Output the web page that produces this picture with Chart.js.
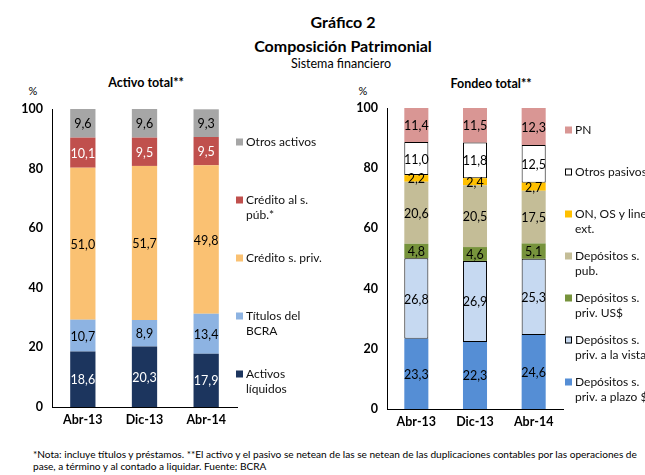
<!DOCTYPE html>
<html>
<head>
<meta charset="utf-8">
<script src="https://cdn.jsdelivr.net/npm/chart.js@4/dist/chart.umd.min.js"></script>
<style>
  body { margin:0; width:645px; height:475px; background:#fff; font-family: Lato, "Open Sans", sans-serif; color:#000; overflow:hidden; position:relative; }
  .t { position:absolute; white-space:nowrap; transform:translate(-50%,-50%); }
  .b { font-weight:bold; }
  canvas { position:absolute; }
  #nota { position:absolute; left:33px; top:448px; font-size:10.1px; line-height:12px; white-space:nowrap; }
</style>
</head>
<body>
<div class="t b" style="left:343px;top:21px;font-size:16px;">Gráfico 2</div>
<div class="t b" style="left:343px;top:45px;font-size:16px;">Composición Patrimonial</div>
<div class="t" style="left:341px;top:63px;font-size:12.5px;">Sistema financiero</div>
<div class="t b" style="left:146px;top:82px;font-size:12.5px;">Activo total**</div>
<div class="t b" style="left:491px;top:83px;font-size:12.5px;">Fondeo total**</div>
<div class="t" style="left:33px;top:90px;font-size:11px;">%</div>
<div class="t" style="left:363px;top:90px;font-size:11px;">%</div>

<canvas id="cActivo" width="330" height="380" style="left:0;top:60px;"></canvas>
<canvas id="cFondeo" width="315" height="380" style="left:330px;top:60px;"></canvas>

<div id="nota">*Nota: incluye títulos y préstamos. **El activo y el pasivo se netean de las se netean de las duplicaciones contables por las operaciones de<br>pase, a término y al contado a liquidar. Fuente: BCRA</div>

<script>
// categorias
const periodos = ['Abr-13', 'Dic-13', 'Abr-14'];

// Activo total (de abajo hacia arriba)
const activosLiquidos = [18.6, 20.3, 17.9];
const titulosBCRA = [10.7, 8.9, 13.4];
const creditoPriv = [51.0, 51.7, 49.8];
const creditoPub = [10.1, 9.5, 9.5];
const otrosActivos = [9.6, 9.6, 9.3];

// Fondeo total (de abajo hacia arriba)
const depPlazo = [23.3, 22.3, 24.6];
const depVista = [26.8, 26.9, 25.3];
const depUSD = [4.8, 4.6, 5.1];
const depPub = [20.6, 20.5, 17.5];
const onOs = [2.2, 2.4, 2.7];
const otrosPasivos = [11.0, 11.8, 12.5];
const pn = [11.4, 11.5, 12.3];

const yTicks = [0, 20, 40, 60, 80, 100];

const FONT = 'Lato, "Open Sans", sans-serif';

function fmt(v) { return v.toFixed(1).replace('.', ','); }

// etiquetas de valores dentro de las barras
const barLabels = {
  id: 'barLabels',
  afterDatasetsDraw(chart) {
    const ctx = chart.ctx;
    ctx.save();
    ctx.font = '12.5px ' + FONT;
    ctx.textAlign = 'center';
    ctx.textBaseline = 'middle';
    chart.data.datasets.forEach((ds, i) => {
      const meta = chart.getDatasetMeta(i);
      meta.data.forEach((bar, j) => {
        ctx.fillStyle = ds.labelColor || '#000';
        ctx.fillText(fmt(ds.data[j]), bar.x, (bar.y + bar.base) / 2 + 1);
      });
    });
    ctx.restore();
  }
};

// leyenda a la derecha, de arriba hacia abajo
const sideLegend = {
  id: 'sideLegend',
  afterDraw(chart, args, opts) {
    const ctx = chart.ctx;
    ctx.save();
    ctx.font = '12px ' + FONT;
    ctx.textBaseline = 'middle';
    ctx.textAlign = 'left';
    const ds = chart.data.datasets.slice().reverse();
    ds.forEach((d, k) => {
      const y = opts.top + k * opts.step;
      ctx.fillStyle = d.backgroundColor;
      ctx.fillRect(opts.x, y - 3.5, 7, 7);
      if (d.borderWidth) {
        ctx.strokeStyle = '#000';
        ctx.lineWidth = 1;
        ctx.strokeRect(opts.x + 0.5, y - 3, 6, 6);
      }
      ctx.fillStyle = '#111';
      d.label.split('\n').forEach((line, n) => {
        ctx.fillText(line, opts.x + 10, y + n * 15);
      });
    });
    ctx.restore();
  }
};

function makeChart(id, datasets, cfg) {
  return new Chart(document.getElementById(id), {
    type: 'bar',
    data: { labels: periodos, datasets: datasets },
    plugins: [barLabels, sideLegend],
    options: {
      responsive: false,
      devicePixelRatio: 1,
      animation: false,
      layout: { padding: { left: 0, right: cfg.right, top: cfg.top, bottom: 0 } },
      plugins: {
        legend: { display: false },
        tooltip: { enabled: false },
        sideLegend: cfg.legend
      },
      datasets: { bar: { categoryPercentage: 1, barPercentage: 0.41 } },
      scales: {
        x: {
          stacked: true,
          grid: { display: false, drawTicks: false },
          border: { display: true, color: '#000', width: 1 },
          ticks: { color: '#000', font: { family: FONT, size: 12.5, weight: 'bold' }, padding: 5 },
          afterFit(s) { s.height = cfg.xh; }
        },
        y: {
          stacked: true,
          min: 0, max: 100,
          afterBuildTicks(s) { s.ticks = yTicks.map(v => ({ value: v })); },
          grid: { display: false, drawTicks: false },
          border: { display: true, color: '#000', width: 1 },
          ticks: { color: '#000', font: { family: FONT, size: 12.5, weight: 'bold' }, padding: 9 },
          afterFit(s) { s.width = cfg.yw; }
        }
      }
    }
  });
}

makeChart('cActivo', [
  { label: 'Activos\nlíquidos', data: activosLiquidos, backgroundColor: '#1c355e', labelColor: '#fff' },
  { label: 'Títulos del\nBCRA', data: titulosBCRA, backgroundColor: '#8db3e2', labelColor: '#000' },
  { label: 'Crédito s. priv.', data: creditoPriv, backgroundColor: '#fac172', labelColor: '#000' },
  { label: 'Crédito al s.\npúb.*', data: creditoPub, backgroundColor: '#c0504d', labelColor: '#fff' },
  { label: 'Otros activos', data: otrosActivos, backgroundColor: '#a6a6a6', labelColor: '#000' }
], { right: 93, top: 49, xh: 33, yw: 52, legend: { x: 236, top: 82, step: 58 } });

makeChart('cFondeo', [
  { label: 'Depósitos s.\npriv. a plazo $', data: depPlazo, backgroundColor: '#558ed5' },
  { label: 'Depósitos s.\npriv. a la vista', data: depVista, backgroundColor: '#c6d9f1', borderColor: '#000', borderWidth: 1, borderSkipped: false },
  { label: 'Depósitos s.\npriv. US$', data: depUSD, backgroundColor: '#77933c' },
  { label: 'Depósitos s.\npub.', data: depPub, backgroundColor: '#c4bd97' },
  { label: 'ON, OS y lineas\next.', data: onOs, backgroundColor: '#ffc000' },
  { label: 'Otros pasivos', data: otrosPasivos, backgroundColor: '#ffffff', borderColor: '#000', borderWidth: 1, borderSkipped: false },
  { label: 'PN', data: pn, backgroundColor: '#d99694' }
], { right: 82, top: 48, xh: 31, yw: 57, legend: { x: 235, top: 70, step: 42 } });
</script>
</body>
</html>
